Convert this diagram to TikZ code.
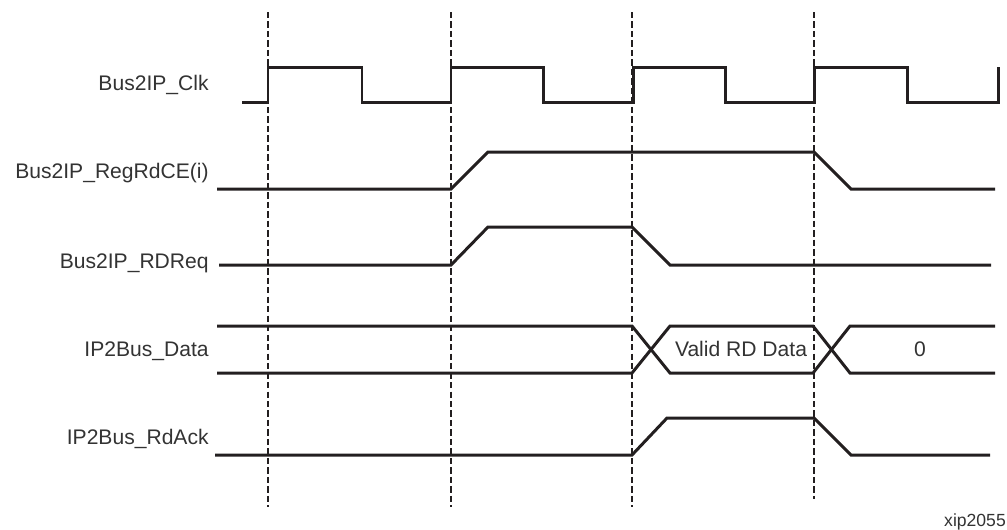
\documentclass[tikz,border=0pt]{standalone}
\usepackage{fontspec}
\setmainfont{Liberation Sans}
\usetikzlibrary{positioning}
\definecolor{wavecolor}{RGB}{35,31,32}
\definecolor{labelcolor}{RGB}{51,51,51}

\begin{document}
\begin{tikzpicture}[
    x=0.02cm, y=-0.02cm,
    wave/.style={draw=wavecolor, line width=1.7pt, line join=miter},
    edge/.style={draw=wavecolor, line width=1.6pt, dash pattern=on 3.6pt off 1.8pt},
    sig/.style={anchor=base east, font=\fontsize{12}{14}\selectfont, text=labelcolor, inner sep=0pt},
    every node/.style={text=labelcolor},
]
    \useasboundingbox (0,0) rectangle (1007,529);

    % Signal names
    \node[sig] (clk)   at (209,90)  {Bus2IP\_Clk};
    \node[sig] (rdce)  at (209,178) {Bus2IP\_RegRdCE(i)};
    \node[sig] (rdreq) at (209,268) {Bus2IP\_RDReq};
    \node[sig] (data)  at (209,356) {IP2Bus\_Data};
    \node[sig] (rdack) at (209,444) {IP2Bus\_RdAck};

    % Clock edges
    \foreach \x/\yb in {268/507, 451/507, 632/507, 814/499}
        \draw[edge] (\x,12) -- (\x,\yb);

    % Bus2IP_Clk
    \draw[wave] (242,102) -- (268,102) -- (268,67) -- (362,67) -- (362,102) -- (451,102) -- (451,67)
        -- (543,67) -- (543,102) -- (633,102) -- (633,67) -- (725,67) -- (725,102) -- (814,102)
        -- (814,67) -- (907,67) -- (907,102) -- (998,102) -- (998,67);

    % Bus2IP_RegRdCE(i)
    \draw[wave] (217,189) -- (451,189) -- (488,152) -- (814,152) -- (851,189) -- (995,189);

    % Bus2IP_RDReq
    \draw[wave] (219,265) -- (451,265) -- (488,227) -- (632,227) -- (670,265) -- (991,265);

    % IP2Bus_Data
    \draw[wave] (217,326) -- (632,326) -- (670,373) -- (813,373) -- (850,326) -- (995,326);
    \draw[wave] (217,373) -- (632,373) -- (670,326) -- (813,326) -- (850,373) -- (995,373);
    \node[font=\fontsize{12}{14}\selectfont] (valid) at (741,349) {Valid RD Data};
    \node[font=\fontsize{12}{14}\selectfont] (zero) at (920,349) {0};

    % IP2Bus_RdAck
    \draw[wave] (215,455) -- (632,455) -- (667,418) -- (814,418) -- (851,455) -- (990,455);

    % Figure tag
    \node[font=\fontsize{10}{12}\selectfont] (tag) at (975,522) {xip2055};
\end{tikzpicture}
\end{document}
